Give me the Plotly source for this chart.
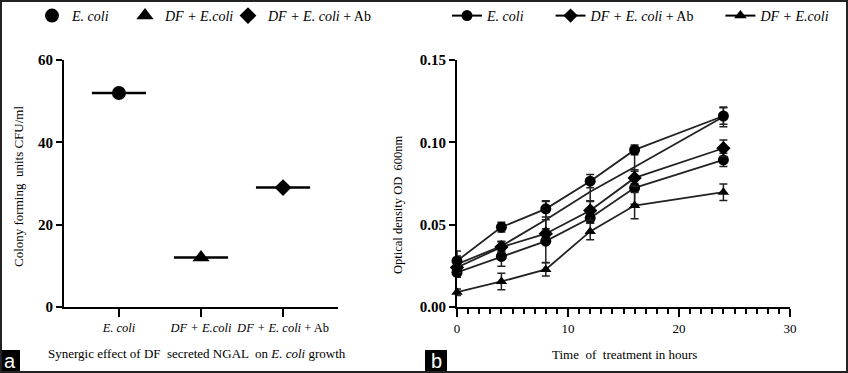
import plotly.graph_objects as go

W, H = 848, 373
NB = "\u00a0"

# ---------- Panel a data ----------
cfu_names = ["<i>E. coli</i>", "<i>DF + E.coli</i>", "<i>DF + E. coli</i> + Ab"]
cfu_ticktext = ["<i>E. coli</i>", "<i>DF + E.coli</i>", "<i>DF + E. coli</i> + Ab"]
cfu_values = [52, 12, 29]
cfu_symbols = ["circle", "triangle-up", "diamond"]
cfu_sizes = [14, 15, 13]

# ---------- Panel b data ----------
hours = [0, 4, 8, 12, 16, 24]
od_ecoli = [0.028, 0.0485, 0.0596, 0.0764, 0.0954, 0.1160]
od_ecoli_err = [0.003, 0.003, 0.005, 0.004, 0.003, 0.005]
od_extra_line = [0.026, 0.037, 0.053, 0.070, 0.085, 0.1155]
od_extra_line_err = [0.008, 0.003, 0.011, 0.006, 0.010, 0.006]
od_df_ab = [0.024, 0.0364, 0.0445, 0.0586, 0.0784, 0.0964]
od_df_ab_err = [0.003, 0.003, 0.003, 0.006, 0.005, 0.005]
od_extra_circle = [0.021, 0.0307, 0.040, 0.054, 0.0724, 0.0893]
od_extra_circle_err = [0.002, 0.006, 0.013, 0.003, 0.010, 0.004]
od_df = [0.009, 0.0155, 0.0228, 0.0459, 0.0616, 0.0697]
od_df_err = [0.002, 0.005, 0.004, 0.005, 0.008, 0.005]

SERIF = "Liberation Serif, Times New Roman, serif"
LINE = "#222222"

fig = go.Figure()

# Panel a traces: each in its own legend so the items sit where the reference has them
left_legends = ["legend5", "legend3", "legend4"]
left_legend_px = [32, 125, 228]
for i, (nm, v, sym, sz) in enumerate(zip(cfu_names, cfu_values, cfu_symbols, cfu_sizes)):
    fig.add_trace(go.Scatter(
        x=[i], y=[v], mode="markers", name=nm,
        marker=dict(symbol=sym, size=sz, color="black"),
        error_x=dict(type="data", array=[0.33], symmetric=True, width=0,
                     thickness=2.5, color="black"),
        xaxis="x", yaxis="y", legend=left_legends[i], cliponaxis=False,
    ))

# Panel b traces
def add_line(y, err, sym, size, name, show, mode="lines+markers"):
    fig.add_trace(go.Scatter(
        x=hours, y=y, mode=mode, name=name, showlegend=show,
        line=dict(color=LINE, width=1.8),
        marker=dict(symbol=sym, size=size, color="black"),
        error_y=dict(type="data", array=err, visible=True, width=4,
                     thickness=1.5, color=LINE),
        xaxis="x2", yaxis="y2", legend="legend2", cliponaxis=False,
    ))

add_line(od_extra_line, od_extra_line_err, "circle", 1, "extra", False, mode="lines")
add_line(od_extra_circle, od_extra_circle_err, "circle", 11, "extra2", False)
add_line(od_df, od_df_err, "triangle-up", 10, "<i>DF + E.coli</i>", False)
add_line(od_df_ab, od_df_ab_err, "diamond", 11, "<i>DF + E. coli</i> + Ab", False)
add_line(od_ecoli, od_ecoli_err, "circle", 11, "<i>E. coli</i>", False)

# legend entries for panel b in the reference order
for nm, sym in [("<i>E. coli</i>" + NB * 6, "circle"),
                ("<i>DF + E. coli</i> + Ab" + NB * 6, "diamond"),
                ("<i>DF + E.coli</i>", "triangle-up")]:
    fig.add_trace(go.Scatter(
        x=[None], y=[None], mode="lines+markers", name=nm,
        line=dict(color="black", width=2),
        marker=dict(symbol=sym, size=11, color="black"),
        xaxis="x2", yaxis="y2", legend="legend2",
    ))

ydom = [1 - 307 / H, 1 - 60 / H]
axis_common = dict(showline=True, linewidth=2, linecolor="black", ticks="outside",
                   tickwidth=2, tickcolor="black", showgrid=False, zeroline=False,
                   automargin=False)

leg_common = dict(orientation="h", y=1 - 16 / H, xanchor="left", yanchor="middle",
                  font=dict(family=SERIF, size=14), bgcolor="rgba(0,0,0,0)")

fig.update_layout(
    template="none",
    width=W, height=H, autosize=False,
    margin=dict(l=0, r=0, t=0, b=0, pad=0, autoexpand=False),
    paper_bgcolor="white", plot_bgcolor="white",
    font=dict(family=SERIF, color="black"),
    xaxis=dict(domain=[64 / W, 338 / W], range=[-0.67, 2.67], tickvals=[0, 1, 2],
               ticktext=cfu_ticktext, ticklen=8, anchor="y",
               tickfont=dict(family=SERIF, size=12.5), **axis_common),
    yaxis=dict(domain=ydom, range=[0, 60], tickvals=[0, 20, 40, 60], ticklen=6,
               anchor="x", tickfont=dict(family=SERIF, size=15, weight="bold"),
               **axis_common),
    xaxis2=dict(domain=[457 / W, 790 / W], range=[0, 30], tickvals=[0, 10, 20, 30],
                ticklen=8, anchor="y2", tickfont=dict(family=SERIF, size=13),
                minor=dict(ticks="outside", dtick=1, ticklen=5, tickwidth=1.5,
                           tickcolor="black"),
                **axis_common),
    yaxis2=dict(domain=ydom, range=[0, 0.15], tickvals=[0, 0.05, 0.10, 0.15],
                tickformat=".2f", ticklen=6, anchor="x2",
                tickfont=dict(family=SERIF, size=15, weight="bold"), **axis_common),
    legend5=dict(x=left_legend_px[0] / W, **leg_common),
    legend3=dict(x=left_legend_px[1] / W, **leg_common),
    legend4=dict(x=left_legend_px[2] / W, **leg_common),
    legend2=dict(x=447 / W, traceorder="normal", **leg_common),
    showlegend=True,
)

annotations = [
    dict(text="Colony forming  units CFU/ml", x=18 / W, y=1 - 187 / H, textangle=-90,
         font=dict(size=13)),
    dict(text="Synergic effect of DF  secreted NGAL  on <i>E. coli</i> growth",
         x=197 / W, y=1 - 353 / H, font=dict(size=13)),
    dict(text="Optical density OD  600nm", x=398 / W, y=1 - 205 / H, textangle=-90,
         font=dict(size=12.5)),
    dict(text="Time  of  treatment in hours", x=624 / W, y=1 - 354 / H,
         font=dict(size=13)),
    dict(text="a", x=10 / W, y=1 - 361 / H, font=dict(family="Liberation Sans, Arial",
                                                  size=20, color="white")),
    dict(text="b", x=436 / W, y=1 - 361 / H, font=dict(family="Liberation Sans, Arial",
                                                   size=20, color="white")),
]
for a in annotations:
    a.update(xref="paper", yref="paper", showarrow=False, xanchor="center",
             yanchor="middle")
fig.update_layout(annotations=annotations)

fig.update_layout(shapes=[
    dict(type="rect", xref="paper", yref="paper", x0=1 / W, x1=1 - 1 / W, y0=1 / H,
         y1=1 - 1 / H, line=dict(color="#222", width=2), layer="above"),
    dict(type="rect", xref="paper", yref="paper", x0=0, x1=20 / W, y0=0, y1=23 / H,
         fillcolor="black", line=dict(width=0), layer="below"),
    dict(type="rect", xref="paper", yref="paper", x0=425 / W, x1=447 / W, y0=0, y1=23 / H,
         fillcolor="black", line=dict(width=0), layer="below"),
])

fig.write_html("out.html", config={"displayModeBar": False},
               post_script="document.body.style.margin='0';"
                           "document.body.style.overflow='hidden';")
